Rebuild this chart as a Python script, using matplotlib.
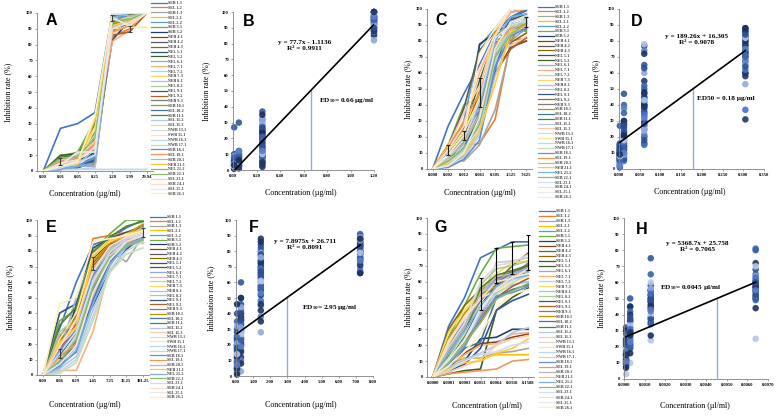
import numpy as np
import matplotlib.pyplot as plt
from matplotlib.colors import to_rgb

plt.rcParams['font.family'] = ['Liberation Serif', 'DejaVu Serif']
plt.rcParams['font.weight'] = 'bold'
plt.rcParams['mathtext.fontset'] = 'custom'
plt.rcParams['mathtext.rm'] = 'Liberation Serif:bold'
plt.rcParams['mathtext.default'] = 'rm'

samples = ['SEB 1-1', 'SEL 1-2', 'SEB 1-3', 'SEL 2-1', 'SEL 2-2', 'SEB 3-1', 'SEB 3-2',
           'NEB 4-1', 'NEB 4-2', 'NEB 4-3', 'NEL 5-1', 'NEL 5-2', 'NEL 6-1', 'NEL 7-1',
           'NEL 7-2', 'NEB 7-3', 'NEB 8-1', 'NEL 8-2', 'NEL 9-1', 'NEL 9-2', 'NEB 9-3',
           'SEB 10-1', 'SEL 10-2', 'SEB 11-1', 'SEL 11-2', 'SEL 11-3', 'NWB 13-1',
           'SWB 15-1', 'NWB 16-1', 'NWB 17-1', 'SEB 18-1', 'SEL 19-1', 'SEB 20-1',
           'NEB 21-1', 'NEL 21-2', 'SEB 22-1', 'SEL 23-1', 'SEB 24-1', 'SEL 25-1', 'SEB 26-1']

# panel A / B
conc_a = ['0.00', '0.01', '0.05', '0.25', '1.20', '5.99', '29.94']
inhib_a = [
    [0, 27, 30, 37, 100, 100, 100], [0, 5, 8, 20, 85, 90, 100], [0, 6, 10, 15, 95, 95, 100],
    [0, 4, 4, 5, 90, 95, 100], [0, 2, 3, 8, 92, 97, 100], [0, 9, 12, 32, 98, 100, 100],
    [0, 3, 6, 12, 83, 95, 100], [0, 7, 9, 22, 88, 92, 100], [0, 5, 6, 10, 93, 96, 100],
    [0, 3, 4, 25, 97, 100, 100], [0, 1, 2, 6, 95, 98, 100], [0, 10, 11, 20, 96, 100, 100],
    [0, 2, 3, 3, 90, 98, 100], [0, 6, 7, 18, 82, 89, 100], [0, 4, 6, 9, 94, 96, 100],
    [0, 3, 5, 28, 99, 100, 100], [0, 2, 4, 14, 91, 95, 100], [0, 8, 10, 26, 97, 98, 100],
    [0, 1, 3, 7, 89, 94, 100], [0, 6, 8, 24, 86, 88, 100], [0, 5, 12, 13, 100, 100, 100],
    [0, 3, 4, 4, 93, 97, 100], [0, 2, 2, 11, 95, 99, 100], [0, 9, 10, 30, 98, 99, 100],
    [0, 1, 1, 2, 100, 100, 100], [0, 7, 9, 19, 87, 93, 100], [0, 4, 11, 16, 99, 100, 100],
    [0, 3, 5, 27, 90, 91, 91], [0, 1, 1, 1, 1, 1, 1], [0, 5, 7, 23, 96, 97, 100],
    [0, 2, 3, 9, 94, 100, 100], [0, 6, 8, 17, 88, 92, 100], [0, 4, 10, 14, 100, 98, 100],
    [0, 3, 4, 33, 92, 95, 100], [0, 1, 3, 5, 97, 100, 100], [0, 8, 9, 21, 95, 96, 100],
    [0, 2, 5, 10, 99, 100, 100], [0, 5, 7, 15, 90, 94, 100], [0, 4, 12, 12, 97, 92, 100],
    [0, 3, 6, 35, 100, 100, 100]]
err_a_idx = [1, 4, 5]
err_a_mean = [6, 97, 90]
err_a_sd = [2, 2, 2]

# panel C / D
conc_c = ['0.000', '0.002', '0.012', '0.061', '0.305', '1.525', '7.625']
inhib_c = [
    [0, 27, 47, 65, 85, 95, 100], [0, 10, 14, 16, 31, 80, 82], [0, 5, 5, 15, 37, 78, 80],
    [0, 12, 25, 45, 80, 85, 92], [0, 8, 30, 77, 88, 100, 100], [0, 15, 40, 45, 75, 88, 86],
    [0, 3, 12, 78, 85, 98, 100], [0, 7, 20, 25, 60, 76, 80], [0, 14, 38, 74, 86, 90, 93],
    [0, 9, 18, 40, 72, 79, 85], [0, 6, 16, 35, 68, 90, 92], [0, 11, 22, 55, 82, 93, 97],
    [0, 4, 10, 30, 65, 80, 88], [0, 13, 28, 60, 84, 98, 100], [0, 7, 15, 38, 70, 82, 90],
    [0, 16, 24, 50, 87, 100, 100], [0, 2, 8, 22, 66, 85, 89], [0, 10, 19, 42, 78, 88, 94],
    [0, 5, 13, 33, 74, 92, 95], [0, 8, 21, 48, 60, 75, 82], [0, 12, 26, 36, 79, 86, 91],
    [0, 15, 28, 40, 86, 80, 95], [0, 3, 9, 27, 62, 94, 99], [0, 6, 17, 31, 76, 89, 87],
    [0, 9, 14, 20, 58, 84, 90], [0, 14, 35, 52, 81, 77, 83], [0, 4, 11, 26, 69, 87, 93],
    [0, 11, 23, 44, 83, 100, 100], [0, 2, 7, 21, 67, 91, 96], [0, 6, 12, 29, 73, 89, 92],
    [0, 1, 6, 18, 64, 83, 88], [0, 13, 30, 47, 77, 88, 90], [0, 7, 16, 34, 71, 86, 94],
    [0, 3, 9, 24, 53, 86, 89], [0, 10, 20, 39, 80, 95, 97], [0, 5, 13, 28, 70, 84, 91],
    [0, 8, 18, 43, 82, 90, 93], [0, 12, 27, 63, 84, 100, 100], [0, 2, 10, 32, 75, 92, 95],
    [0, 9, 21, 72, 88, 100, 100]]
err_c_idx = [1, 2, 3, 6]
err_c_mean = [12, 21, 48, 92]
err_c_sd = [3, 3, 9, 3]

# panel E / F
conc_e = ['0.00', '0.06', '0.29', '1.45', '7.25', '36.25', '181.25']
inhib_e = [
    [0, 30, 60, 84, 88, 95, 100], [0, 20, 40, 88, 90, 92, 94], [0, 10, 25, 65, 80, 73, 90],
    [0, 15, 30, 70, 82, 85, 85], [0, 8, 20, 55, 78, 90, 95], [0, 35, 42, 80, 91, 100, 100],
    [0, 12, 45, 75, 85, 88, 92], [0, 5, 22, 60, 76, 84, 88], [0, 18, 28, 62, 80, 86, 90],
    [0, 22, 35, 72, 86, 90, 93], [0, 40, 46, 82, 88, 92, 96], [0, 25, 38, 68, 83, 87, 91],
    [0, 14, 50, 77, 87, 80, 97], [0, 3, 3, 28, 70, 86, 89], [0, 11, 24, 58, 74, 82, 87],
    [0, 20, 32, 74, 84, 90, 98], [0, 7, 18, 50, 72, 88, 91], [0, 28, 36, 66, 81, 89, 95],
    [0, 13, 27, 45, 67, 81, 90], [0, 17, 33, 70, 84, 89, 92], [0, 9, 21, 56, 78, 85, 89],
    [0, 24, 37, 73, 85, 91, 97], [0, 6, 15, 48, 73, 83, 90], [0, 32, 44, 79, 89, 96, 99],
    [0, 4, 12, 42, 66, 84, 88], [0, 19, 30, 63, 80, 87, 91], [0, 10, 26, 60, 77, 86, 90],
    [0, 23, 40, 78, 86, 91, 93], [0, 2, 10, 38, 68, 80, 86], [0, 1, 8, 35, 66, 78, 82],
    [0, 16, 29, 64, 79, 88, 92], [0, 12, 20, 52, 75, 85, 90], [0, 26, 34, 69, 82, 87, 89],
    [0, 21, 31, 76, 87, 90, 94], [0, 5, 16, 46, 71, 84, 88], [0, 9, 23, 57, 76, 83, 87],
    [0, 14, 28, 61, 79, 88, 91], [0, 18, 36, 67, 83, 89, 92], [0, 7, 19, 53, 74, 86, 90],
    [0, 46, 50, 86, 88, 90, 93]]
err_e_idx = [1, 3, 6]
err_e_mean = [14, 72, 92]
err_e_sd = [3, 4, 3]

# panel G / H
conc_g = ['0.0000', '0.0001', '0.0003', '0.0013', '0.0064', '0.0318', '0.1588']
inhib_g = [
    [0, 32, 50, 75, 80, 85, 85], [0, 10, 20, 38, 55, 62, 72], [0, 8, 12, 12, 15, 16, 18],
    [0, 5, 12, 12, 14, 14, 14], [0, 15, 30, 50, 60, 65, 68], [0, 25, 45, 65, 81, 82, 83],
    [0, 3, 10, 24, 25, 30, 30], [0, 6, 15, 21, 22, 25, 27], [0, 20, 35, 55, 62, 66, 70],
    [0, 30, 45, 55, 60, 70, 78], [0, 12, 25, 45, 58, 63, 66], [0, 2, 4, 5, 42, 50, 56],
    [0, 18, 32, 52, 61, 64, 69], [0, 7, 14, 20, 21, 27, 28], [0, 22, 36, 48, 72, 73, 75],
    [0, 28, 42, 55, 65, 72, 73], [0, 9, 20, 40, 53, 58, 60], [0, 14, 28, 58, 68, 70, 73],
    [0, 4, 8, 18, 42, 48, 52], [0, 11, 22, 35, 50, 57, 62], [0, 16, 30, 48, 59, 66, 71],
    [0, 24, 40, 52, 57, 63, 67], [0, 5, 18, 22, 50, 55, 58], [0, 13, 26, 56, 64, 67, 70],
    [0, 6, 11, 15, 20, 28, 31], [0, 3, 7, 11, 20, 24, 26], [0, 19, 34, 60, 70, 72, 77],
    [0, 21, 38, 50, 54, 60, 63], [0, 10, 24, 42, 56, 61, 64], [0, 12, 27, 46, 52, 59, 65],
    [0, 8, 19, 37, 51, 53, 57], [0, 2, 3, 4, 5, 10, 11], [0, 17, 31, 53, 63, 65, 66],
    [0, 5, 9, 10, 15, 18, 24], [0, 15, 29, 44, 57, 62, 64], [0, 9, 21, 34, 49, 54, 59],
    [0, 4, 10, 14, 16, 20, 22], [0, 23, 37, 49, 60, 62, 68], [0, 11, 23, 43, 55, 63, 65],
    [0, 7, 16, 27, 44, 52, 55]]
err_g_idx = [3, 4, 5, 6]
err_g_mean = [52, 70, 75, 78]
err_g_sd = [10, 11, 10, 11]

# excel-like palette
base = ['#4472C4', '#ED7D31', '#A5A5A5', '#FFC000', '#5B9BD5', '#70AD47']
levels = [0, -0.45, 0.4, -0.25, 0.6, 0.2, 0.75]
line_colors = []
for lv in levels:
    for b in base:
        c = np.array(to_rgb(b))
        c = c * (1 + lv) if lv < 0 else c + (1 - c) * lv
        line_colors.append(tuple(np.clip(c, 0, 1)))
blues = ['#2F5597', '#1F3864', '#4472C4', '#8FAADC', '#203864', '#3B64AD',
         '#B4C7E7', '#2E4F8F', '#5B7FC7', '#1B2F5C']

W, H = 778, 416
fig = plt.figure(figsize=(W / 100, H / 100), dpi=100)


def make_ax(l, r, t, b):
    ax = fig.add_axes([l / W, 1 - b / H, (r - l) / W, (b - t) / H])
    for s in ['top', 'right']:
        ax.spines[s].set_visible(False)
    for s in ['left', 'bottom']:
        ax.spines[s].set_color('#808080')
        ax.spines[s].set_linewidth(0.6)
    ax.tick_params(labelsize=3.3, length=1.5, width=0.5, color='#808080', pad=1.5)
    ax.set_ylim(0, 100)
    ax.set_yticks(range(0, 101, 10))
    return ax


def deco(ax, letter, lpos, ylabel, ylx, xlabel, xlpos):
    ax.text(lpos[0], lpos[1], letter, transform=ax.transAxes, family='Liberation Sans',
            fontsize=11.5, fontweight='bold', ha='center', va='center')
    ax.set_ylabel(ylabel, fontsize=5.8)
    ax.yaxis.set_label_coords(ylx, 0.5)
    ax.set_xlabel(xlabel, fontsize=5.8)
    ax.xaxis.set_label_coords(xlpos[0], xlpos[1])


def line_panel(box, conc, data, eidx, emean, esd, ecolor, leg_xy, leg_sp):
    ax = make_ax(*box)
    x = np.arange(len(conc))
    handles = []
    for i, row in enumerate(data):
        h, = ax.plot(x, row, color=line_colors[i], lw=1.2, label=samples[i])
        handles.append(h)
    ax.errorbar(eidx, emean, yerr=esd, fmt='none', ecolor=ecolor, elinewidth=0.8,
                capsize=1.6, capthick=0.8)
    ax.set_xticks(x)
    ax.set_xticklabels(conc)
    ax.set_xlim(-0.36, len(conc) - 0.64)
    leg = ax.legend(handles=handles, loc='upper left', bbox_to_anchor=(leg_xy[0] / W, 1 - leg_xy[1] / H),
                    bbox_transform=fig.transFigure, fontsize=3.0, frameon=False,
                    handlelength=3.8, handletextpad=0.35, labelspacing=leg_sp, borderpad=0,
                    borderaxespad=0)
    for t in leg.get_texts():
        t.set_color('#404040')
    for l in leg.get_lines():
        l.set_linewidth(0.9)
    return ax


def scatter_panel(box, conc, data, keep, xmax, xstep, fmt, slope, icept, eq_xy, r2, ed50,
                  ed_txt, ed_xy):
    ax = make_ax(*box)
    xs = [float(c) for c in conc[1:5]]
    for i, row in enumerate(data):
        if not keep(row):
            continue
        ax.scatter(xs, row[1:5], s=22, color=blues[i % len(blues)], alpha=0.9,
                   edgecolors='none', clip_on=False, zorder=2)
    fx = np.array([xs[0], xs[-1]])
    ax.plot(fx, slope * fx + icept, color='black', lw=1.2, zorder=3)
    ax.plot([ed50, ed50], [0, 50], color='#8FAADC', lw=1.0, zorder=1)
    sign = '+' if icept >= 0 else '-'
    ax.text(eq_xy[0], eq_xy[1], 'y = %gx %s %g\nR² = %s' % (slope, sign, abs(icept), r2),
            fontsize=5.2, ha='center', va='center', linespacing=1.25, zorder=4)
    ax.text(ed_xy[0], ed_xy[1], ed_txt, fontsize=5.2, ha='left', va='center', zorder=4)
    ticks = np.arange(0, xmax + xstep / 2, xstep)
    ax.set_xticks(ticks)
    ax.set_xticklabels([fmt % t for t in ticks])
    ax.set_xlim(0, xmax)
    return ax


ylab = 'Inhibition rate (%)'
ylab_e = 'Inhibitation rate (%)'
xlab_ug = 'Concentration (µg/ml)'
xlab_ul = 'Concentration (µl/ml)'

ax = line_panel((37, 153, 13, 171), conc_a, inhib_a, err_a_idx, err_a_mean, err_a_sd,
                '#404040', (151, 1), 0.215)
deco(ax, 'A', (0.12, 0.95), ylab, -0.21, xlab_ug, (0.41, -0.12))

ax = scatter_panel((233, 374, 12, 170), conc_a, inhib_a, lambda r: r[-1] > 50, 1.2, 0.2,
                   '%.2f', 77.7, -1.1136, (0.61, 79), '0.9911', 0.66,
                   'ED$_{50}$= 0.66 µg/ml', (0.73, 44))
deco(ax, 'B', (0.11, 0.94), ylab, -0.16, xlab_ug, (0.48, -0.12))

ax = line_panel((427, 532, 9, 169), conc_c, inhib_c, err_c_idx, err_c_mean, err_c_sd,
                '#202020', (538, 5), 0.21)
deco(ax, 'C', (0.13, 0.93), ylab, -0.14, 'Conecntration (µg/ml)', (0.5, -0.125))

ax = scatter_panel((619, 764, 9, 169), conc_c, inhib_c, lambda r: True, 0.35, 0.05,
                   '%.3f', 189.26, 16.305, (0.188, 81), '0.9078', 0.178,
                   'ED50 = 0.18 µg/ml', (0.188, 44))
deco(ax, 'D', (0.12, 0.925), ylab, -0.13, xlab_ug, (0.49, -0.12))

ax = line_panel((37, 149, 220, 375), conc_e, inhib_e, err_e_idx, err_e_mean, err_e_sd,
                '#404040', (150, 215), 0.15)
deco(ax, 'E', (0.13, 0.95), ylab_e, -0.2, xlab_ug, (0.43, -0.17))

ax = scatter_panel((236, 373, 220, 376), conc_e, inhib_e, lambda r: True, 8.0, 1.0,
                   '%.2f', 7.8975, 26.711, (4.03, 84), '0.8091', 2.95,
                   'ED$_{50}$= 2.95 µg/ml', (3.85, 44))
deco(ax, 'F', (0.13, 0.95), ylab_e, -0.15, xlab_ug, (0.47, -0.16))

ax = line_panel((427, 534, 218, 377), conc_g, inhib_g, err_g_idx, err_g_mean, err_g_sd,
                'black', (539, 209), 0.25)
deco(ax, 'G', (0.13, 0.94), ylab, -0.14, xlab_ul, (0.56, -0.16))

ax = scatter_panel((624, 768, 218, 379), conc_g, inhib_g, lambda r: r[3] >= 24, 0.007, 0.001,
                   '%.4f', 5368.7, 25.758, (0.00355, 82), '0.7065', 0.0045,
                   'ED$_{50}$= 0.0045 µl/ml', (0.00175, 57))
deco(ax, 'H', (0.12, 0.93), ylab, -0.13, xlab_ul, (0.49, -0.14))

fig.savefig('out.png', dpi=100)
